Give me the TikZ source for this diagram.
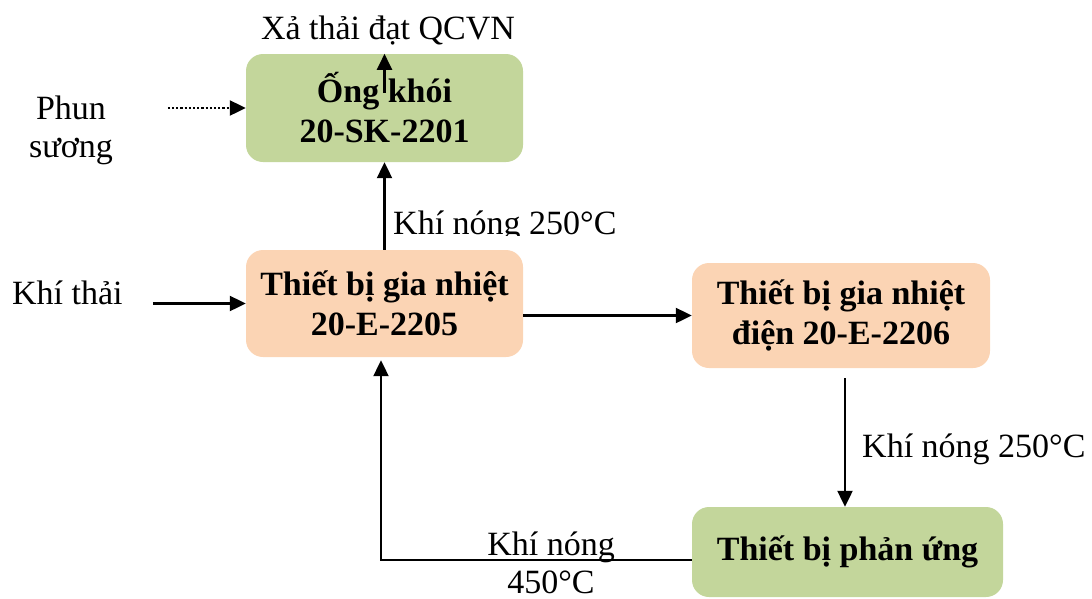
\documentclass[tikz,border=0pt]{standalone}
\usepackage{fontspec}
\setmainfont{Liberation Serif}
\usetikzlibrary{arrows.meta}
\definecolor{boxgreen}{HTML}{C3D69B}
\definecolor{boxpeach}{HTML}{FBD4B4}
\begin{document}
\begin{tikzpicture}[x=1pt, y=-1pt, >={Triangle[length=16pt,width=15pt]},
    every node/.style={font=\fontsize{34}{38}\selectfont, inner sep=0pt},
    unitbox/.style={rounded corners=17pt, align=center,
        font=\bfseries\fontsize{34}{40}\selectfont},
    greenbox/.style={unitbox, fill=boxgreen},
    peachbox/.style={unitbox, fill=boxpeach},
    flow/.style={->, line width=2.2pt}]
    \useasboundingbox (0,0) rectangle (1092,598);

    % nhan
    \node[anchor=base] (vent) at (388,39) {Xả thải đạt QCVN};
    \node[align=center] (mist) at (71,130) {Phun\\sương};
    \node[anchor=base west] (gas) at (12,304) {Khí thải};
    \begin{scope}
        \clip (380,190) rectangle (700,235);
        \node[anchor=base west] (hot1) at (393,234) {Khí nóng 250°C};
    \end{scope}
    \node[anchor=base west] (hot2) at (862,457) {Khí nóng 250°C};
    \node[align=center] (hot3) at (551,563) {Khí nóng\\450°C};

    % thiet bi
    \node[greenbox, minimum width=277, minimum height=108] (stack) at (384.5,108) {Ống khói\\20-SK-2201};
    \node[peachbox, minimum width=277, minimum height=107] (heat) at (384.5,303.5) {Thiết bị gia nhiệt\\20-E-2205};
    \node[peachbox, minimum width=298, minimum height=105] (elec) at (841,315.5) {Thiết bị gia nhiệt\\điện 20-E-2206};
    \node[greenbox, minimum width=311, minimum height=90] (react) at (847.5,552) {Thiết bị phản ứng};

    % dong khi
    \draw[flow] ([yshift=-39pt]stack.north) -- (stack.north);
    \draw[flow, dotted] ([xshift=-78pt]stack.west) -- (stack.west);
    \draw[flow] ([xshift=-93pt]heat.west) -- (heat.west);
    \draw[flow] (heat.north) -- (stack.south);
    \draw[flow] (heat.east |- elec.west) -- (elec.west);
    \draw[flow] ([xshift=4pt,yshift=-10pt]elec.south) -- ([xshift=4pt]elec.south |- react.north);
    \coordinate (bend) at (381,560);
    \draw[flow] (react.west |- bend) -- (bend) -- ([yshift=-3pt]heat.south -| bend);
\end{tikzpicture}
\end{document}
